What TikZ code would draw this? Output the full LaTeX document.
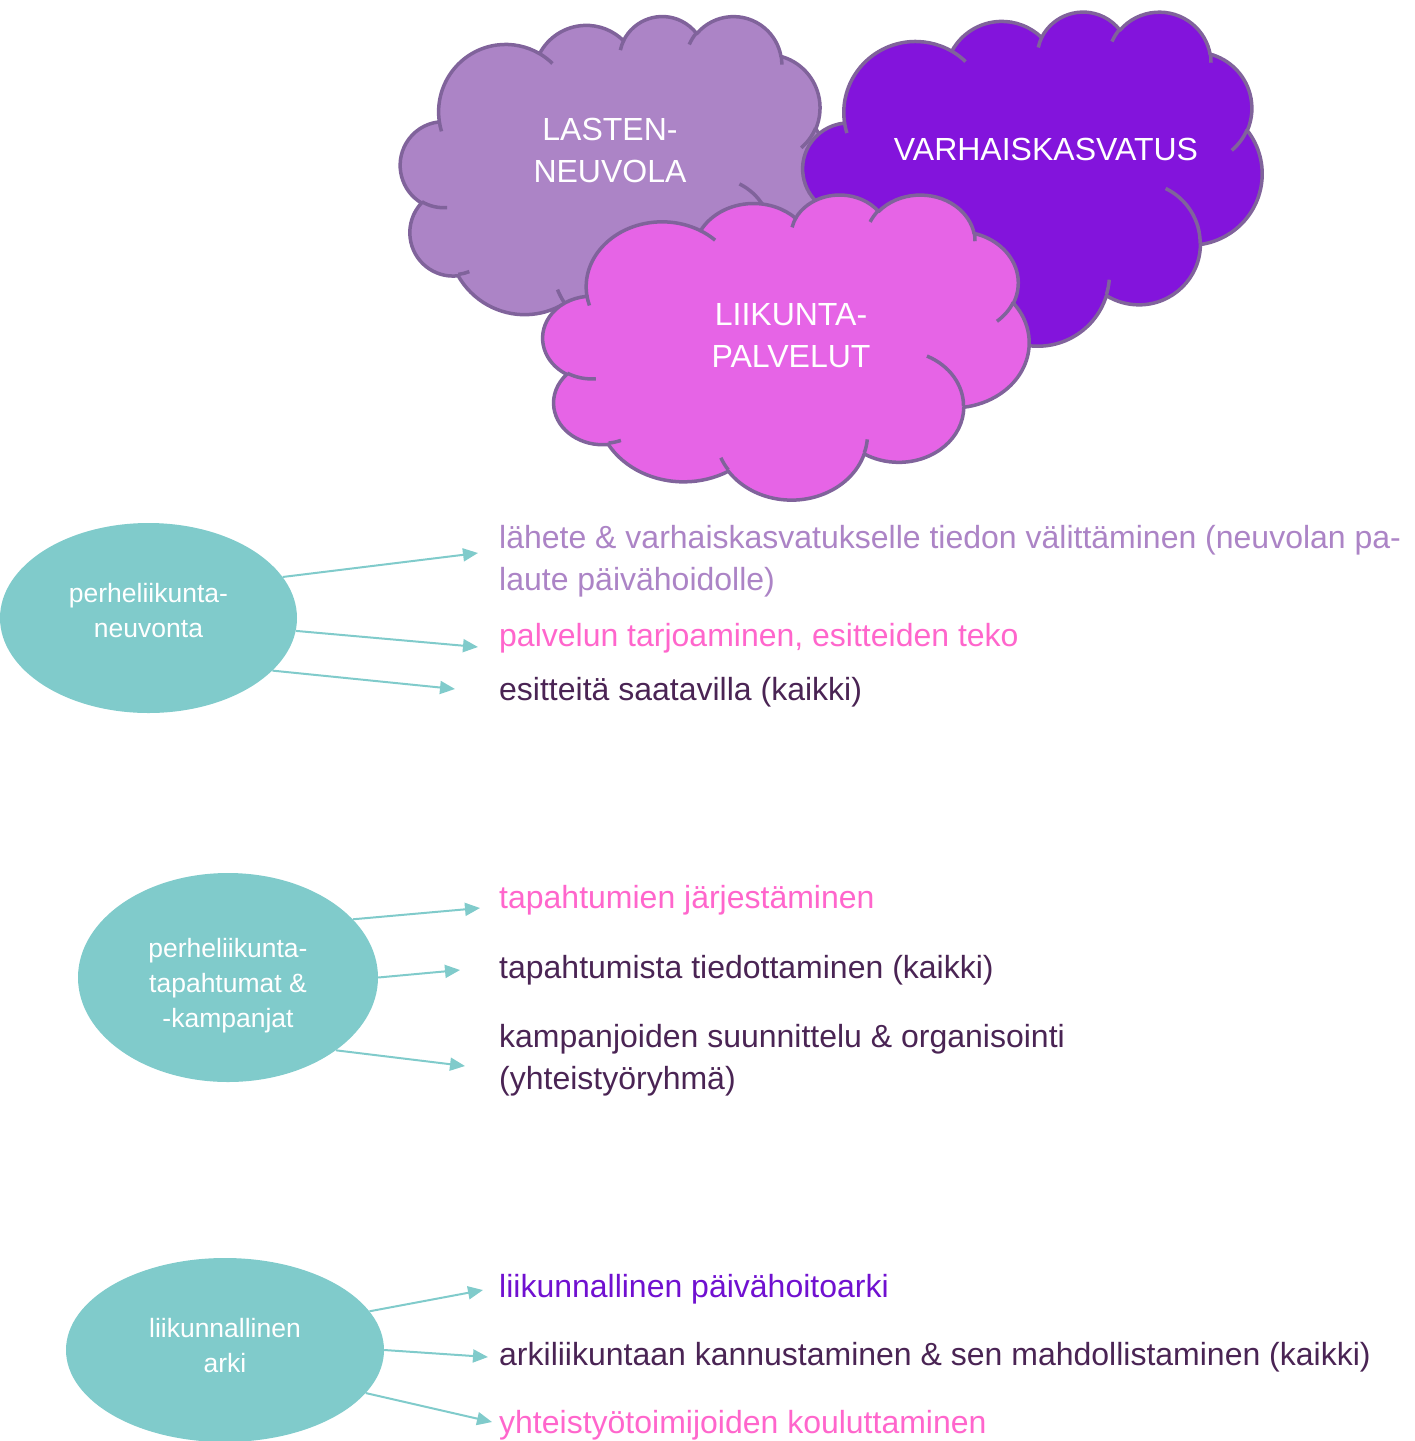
\documentclass[tikz,border=0pt]{standalone}
\usepackage{fontspec}
\setmainfont{Liberation Sans}
\usetikzlibrary{shapes.geometric,arrows.meta}
\definecolor{lav}{HTML}{AC84C6}
\definecolor{varh}{HTML}{8314DC}
\definecolor{liik}{HTML}{E664E6}
\definecolor{cloudline}{HTML}{80639B}
\definecolor{tealc}{HTML}{80CBCB}
\definecolor{pinkt}{HTML}{FF66CC}
\definecolor{darkt}{HTML}{4A2454}
\definecolor{purpt}{HTML}{7010D0}
\tikzset{
  declare function={pa(\rx,\ry,\a)=atan2(\rx*sin(\a),\ry*cos(\a));},
  varc/.style n args={4}{x radius=#1, y radius=#2, start angle={pa(#1,#2,#3)},
     delta angle={mod(pa(#1,#2,#3+#4)-pa(#1,#2,#3)+720,360)}},
  cloudedge/.style={draw=cloudline, line width=3.5pt, line join=round},
  ell/.style={ellipse, fill=tealc, inner sep=0pt},
  elltext/.style={text=white, align=center, inner sep=0pt, font=\fontsize{26.5}{35}\selectfont},
  cloudtext/.style={text=white, align=center, inner sep=0pt, font=\fontsize{32}{42}\selectfont},
  item/.style={anchor=base west, align=left, inner sep=0pt, font=\fontsize{32}{42}\selectfont},
  arr/.style={draw=tealc, line width=2pt, -{Triangle[length=15pt,width=13pt]}}
}
\newcommand{\pptcloud}[5]{%
\begin{scope}[shift={(#1,#2)}, x=#3pt, y=-#4pt]
\path[cloudedge, fill=#5] (39.00,143.70)
 arc[varc={67.53}{91.90}{-190.4875}{123.7805}]
 arc[varc={53.33}{72.67}{-144.1024}{89.9452}]
 arc[varc={43.65}{59.45}{-145.8079}{99.7230}]
 arc[varc={48.57}{65.95}{-130.9861}{117.2417}]
 arc[varc={53.33}{72.73}{-78.7089}{109.0269}]
 arc[varc={67.75}{92.20}{-46.2673}{130.2690}]
 arc[varc={57.85}{78.67}{0.6250}{114.0333}]
 arc[varc={67.52}{92.15}{22.4516}{115.1726}]
 arc[varc={77.20}{105.43}{66.2426}{75.7110}]
 arc[varc={43.60}{59.18}{-274.9421}{146.7356}]
 arc[varc={43.45}{59.45}{-246.8285}{152.5189}]
 -- cycle;
\path[cloudedge]
 (46.93,261.77) arc[varc={43.45}{59.45}{86.742}{26.4295}]
 (69.28,348.99) arc[varc={43.60}{59.18}{73.6105}{11.4475}]
 (164.78,390.90) arc[varc={67.52}{92.15}{137.6242}{14.0811}]
 (288.27,347.51) arc[varc={67.52}{92.15}{6.4533}{15.9984}]
 (341.29,229.54) arc[varc={57.85}{78.67}{-70.2924}{70.9174}]
 (417.98,153.54) arc[varc={53.33}{72.73}{30.3180}{27.7515}]
 (383.24,54.26) arc[varc={48.57}{65.95}{-13.7443}{14.8589}]
 (290.78,39.52) arc[varc={48.57}{65.95}{-149.1815}{18.1954}]
 (221.41,47.20) arc[varc={43.65}{59.45}{-163.4943}{17.6864}]
 (140.00,51.92) arc[varc={67.53}{91.90}{-66.7070}{12.3194}]
 (41.27,157.89) arc[varc={67.53}{91.90}{157.6544}{11.8582}];
\end{scope}}
\begin{document}
\begin{tikzpicture}[x=1pt, y=-1pt]
\useasboundingbox (0,0) rectangle (1415,1441);
% clouds
\pptcloud{400.5}{15.5}{0.99306}{0.73380}{lav}
\pptcloud{803}{11}{1.06250}{0.77315}{varh}
\pptcloud{543}{194}{1.12500}{0.70602}{liik}
\node[cloudtext] (lasten) at (610,150) {LASTEN-\\NEUVOLA};
\node[cloudtext] (varhais) at (1046,149) {VARHAISKASVATUS};
\node[cloudtext] (liikunta) at (791,336) {LIIKUNTA-\\PALVELUT};
% ellipses
\node[ell, minimum width=297pt, minimum height=190pt] (e1) at (148.5,618) {};
\node[elltext] (e1t) at ([yshift=7pt]e1.center) {perheliikunta-\\neuvonta};
\node[ell, minimum width=300pt, minimum height=209pt] (e2) at (228,977.5) {};
\node[elltext] (e2t) at ([yshift=-8pt]e2.center) {perheliikunta-\\tapahtumat \&\\-kampanjat};
\node[ell, minimum width=318pt, minimum height=184pt] (e3) at (225,1350) {};
\node[elltext] (e3t) at ([yshift=4pt]e3.center) {liikunnallinen\\arki};
% items (base = baseline of last line)
\node[item, text=lav] (i1) at (499,590) {lähete \& varhaiskasvatukselle tiedon välittäminen (neuvolan pa-\\laute päivähoidolle)};
\node[item, text=pinkt] (i2) at (499,646) {palvelun tarjoaminen, esitteiden teko};
\node[item, text=darkt] (i3) at (499,700) {esitteitä saatavilla (kaikki)};
\node[item, text=pinkt] (j1) at (499,908) {tapahtumien järjestäminen};
\node[item, text=darkt] (j2) at (499,978) {tapahtumista tiedottaminen (kaikki)};
\node[item, text=darkt] (j3) at (499,1089) {kampanjoiden suunnittelu \& organisointi\\(yhteistyöryhmä)};
\node[item, text=purpt] (k1) at (499,1297) {liikunnallinen päivähoitoarki};
\node[item, text=darkt] (k2) at (499,1365) {arkiliikuntaan kannustaminen \& sen mahdollistaminen (kaikki)};
\node[item, text=pinkt] (k3) at (499,1433) {yhteistyötoimijoiden kouluttaminen};
% arrow ends
\coordinate (a1) at (478,553);
\coordinate (a2) at (478,647);
\coordinate (a3) at (455,689);
\coordinate (b1) at (480,908);
\coordinate (b2) at (460,970);
\coordinate (b3) at (465,1066);
\coordinate (c1) at (483,1290);
\coordinate (c2) at (488,1357);
\coordinate (c3) at (492,1422);
\draw[arr] (e1.17) -- (a1);
\draw[arr] (e1.-5) -- (a2);
\draw[arr] (e1.-23) -- (a3);
\draw[arr] (e2.25) -- (b1);
\draw[arr] (e2.0) -- (b2);
\draw[arr] (e2.-34) -- (b3);
\draw[arr] (e3.15) -- (c1);
\draw[arr] (e3.0) -- (c2);
\draw[arr] (e3.-17) -- (c3);
\end{tikzpicture}
\end{document}
